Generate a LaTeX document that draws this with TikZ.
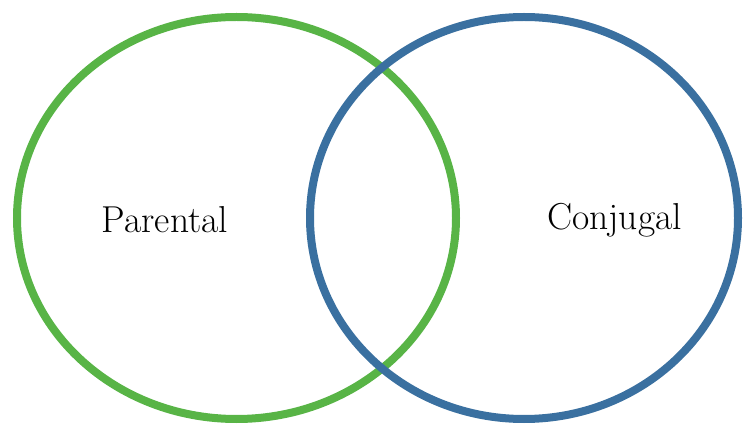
\documentclass[tikz,border=0pt]{standalone}
\usepackage{tikz}
\usetikzlibrary{shapes.geometric}
\definecolor{parentgreen}{RGB}{88,180,70}
\definecolor{conjblue}{RGB}{58,112,160}
\tikzstyle{ring} = [ellipse, line width=8pt, inner sep=0pt, fill=none]
\tikzstyle{label} = [font=\fontsize{37.5}{44}\selectfont, inner sep=0pt]

\begin{document}
\begin{tikzpicture}[x=1pt, y=1pt]
\useasboundingbox (0,0) rectangle (744,423);

% Circles
\node (parentset) [ring, draw=parentgreen, minimum width=439pt, minimum height=402pt] at (236.5,205) {};
\node (conjset) [ring, draw=conjblue, minimum width=428pt, minimum height=402pt] at (524,205) {};

% Labels
\node (parentlbl) [label] at (165,203) {Parental};
\node (conjlbl) [label] at (614.5,203) {Conjugal};

\end{tikzpicture}
\end{document}
